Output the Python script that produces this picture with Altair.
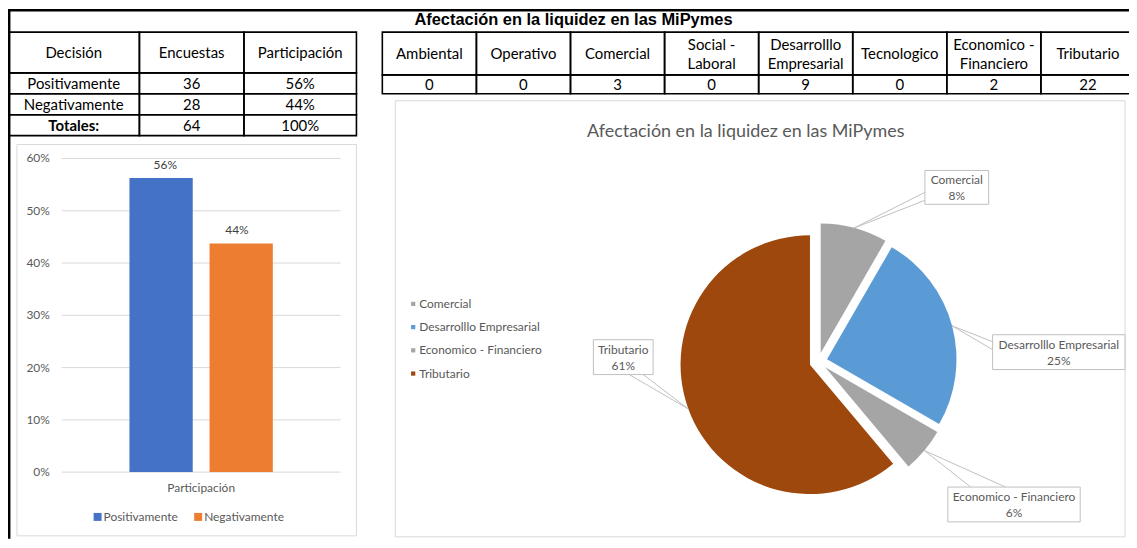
import math
import altair as alt
import pandas as pd

# ------------------------------------------------------------------ data
T1_HEADERS = ["Decisión", "Encuestas", "Participación"]
T1_DECISION = ["Positivamente", "Negativamente", "Totales:"]
T1_ENCUESTAS = [36, 28, 64]

T2_TITLE = "Afectación en la liquidez en las MiPymes"
T2_HEADERS = ["Ambiental", "Operativo", "Comercial", "Social -\nLaboral",
              "Desarrolllo\nEmpresarial", "Tecnologico", "Economico -\nFinanciero",
              "Tributario"]
T2_VALUES = [0, 0, 3, 0, 9, 0, 2, 22]

BAR_SERIES = ["Positivamente", "Negativamente"]
BAR_COUNTS = [36, 28]
BAR_CATEGORY = "Participación"
BAR_TICKS = [0, 0.1, 0.2, 0.3, 0.4, 0.5, 0.6]

PIE_TITLE = "Afectación en la liquidez en las MiPymes"
PIE_CATS = ["Comercial", "Desarrolllo Empresarial", "Economico - Financiero", "Tributario"]
PIE_VALUES = [3, 9, 2, 22]

# ------------------------------------------------------------------ styles / layout
FONT = "Lato"
GRAY_TXT = "#595959"
GRID = "#d9d9d9"
BAR_COLORS = ["#4472c4", "#ed7d31"]
PIE_COLORS = ["#a5a5a5", "#5b9bd5", "#a5a5a5", "#9e480e"]

OFF = 8
def P(v):
    return v - OFF

W, H = 1126, 532

PIE_CX, PIE_CY, PIE_R, PIE_D = P(822), P(362), 130, 9

LABEL_BOX = {
    "Comercial": (929, 170, 993, 204),
    "Desarrolllo Empresarial": (997, 335, 1130, 370),
    "Economico - Financiero": (952, 488, 1085, 523),
    "Tributario": (596, 340, 656, 375),
}
LEADER_ANCHORS = {
    "Comercial": [(929, 192), (929, 200)],
    "Desarrolllo Empresarial": [(997, 342), (997, 350)],
    "Economico - Financiero": [(975, 488), (1010, 488)],
    "Tributario": [(632, 375), (646, 375)],
}

one = pd.DataFrame({"k": [0]})
layers = []

# ------------------------------------------------------------------ outer frame
layers.append(alt.Chart(one).mark_rule(color="black", strokeWidth=2.5).encode(
    x=alt.value(0), x2=alt.value(W), y=alt.value(1)))
layers.append(alt.Chart(one).mark_rule(color="black", strokeWidth=2.5).encode(
    x=alt.value(1.2), y=alt.value(0), y2=alt.value(H)))

# ------------------------------------------------------------------ table 1
total_enc = T1_ENCUESTAS[-1]
t1_rows = []
for c, h in enumerate(T1_HEADERS):
    t1_rows.append(dict(c=c, r=0, text=h, bold=False))
for r, (d, e) in enumerate(zip(T1_DECISION, T1_ENCUESTAS), start=1):
    pct = f"{round(100 * e / total_enc)}%"
    t1_rows += [dict(c=0, r=r, text=d, bold=(d == "Totales:")),
                dict(c=1, r=r, text=str(e), bold=False),
                dict(c=2, r=r, text=pct, bold=False)]
t1 = pd.DataFrame(t1_rows)
T1X = alt.Scale(domain=[0, 1, 2, 3], range=[P(8), P(140), P(245), P(358)], nice=False, zero=False)
T1Y = alt.Scale(domain=[0, 1, 2, 3, 4], range=[P(31), P(72), P(93), P(114), P(135)], nice=False, zero=False)
t1b = alt.Chart(t1).transform_calculate(c1="datum.c + 1").transform_calculate(
    r1="datum.r + 1").transform_calculate(cm="datum.c + 0.5").transform_calculate(rm="datum.r + 0.5")
layers.append(t1b.mark_rect(fillOpacity=0, stroke="black", strokeWidth=1.6).encode(
    x=alt.X("c:Q", scale=T1X, axis=None), x2="c1:Q",
    y=alt.Y("r:Q", scale=T1Y, axis=None), y2="r1:Q"))
layers.append(t1b.transform_filter("!datum.bold").mark_text(
    font=FONT, fontSize=15, color="black", baseline="middle", dy=1).encode(
    x=alt.X("cm:Q", scale=T1X, axis=None), y=alt.Y("rm:Q", scale=T1Y, axis=None), text="text:N"))
layers.append(t1b.transform_filter("datum.bold").mark_text(
    font=FONT, fontSize=15, fontWeight="bold", color="black", baseline="middle", dy=1).encode(
    x=alt.X("cm:Q", scale=T1X, axis=None), y=alt.Y("rm:Q", scale=T1Y, axis=None), text="text:N"))

# ------------------------------------------------------------------ table 2
t2_rows = []
for c, (h, v) in enumerate(zip(T2_HEADERS, T2_VALUES)):
    t2_rows.append(dict(c=c, r=0, text=h, multi=("\n" in h)))
    t2_rows.append(dict(c=c, r=1, text=str(v), multi=False))
t2 = pd.DataFrame(t2_rows)
T2X = alt.Scale(domain=[0, 8], range=[P(384), P(1140)], nice=False, zero=False)
T2Y = alt.Scale(domain=[0, 1, 2], range=[P(31), P(74), P(93)], nice=False, zero=False)
t2b = alt.Chart(t2).transform_calculate(c1="datum.c + 1").transform_calculate(
    r1="datum.r + 1").transform_calculate(cm="datum.c + 0.5").transform_calculate(rm="datum.r + 0.5")
layers.append(t2b.mark_rect(fillOpacity=0, stroke="black", strokeWidth=1.6).encode(
    x=alt.X("c:Q", scale=T2X, axis=None), x2="c1:Q",
    y=alt.Y("r:Q", scale=T2Y, axis=None), y2="r1:Q"))
layers.append(t2b.transform_filter("!datum.multi").mark_text(
    font=FONT, fontSize=15, color="black", baseline="middle", dy=1).encode(
    x=alt.X("cm:Q", scale=T2X, axis=None), y=alt.Y("rm:Q", scale=T2Y, axis=None), text="text:N"))
layers.append(t2b.transform_filter("datum.multi").mark_text(
    font=FONT, fontSize=15, color="black", baseline="middle",
    lineBreak="\n", lineHeight=19, dy=-8.5).encode(
    x=alt.X("cm:Q", scale=T2X, axis=None), y=alt.Y("rm:Q", scale=T2Y, axis=None), text="text:N"))
layers.append(alt.Chart(pd.DataFrame({"t": [T2_TITLE]})).mark_text(
    font="Liberation Sans", fontSize=16.5, fontWeight="bold", color="black", baseline="middle").encode(
    x=alt.value(P(576)), y=alt.value(P(19)), text="t:N"))

# ------------------------------------------------------------------ bar chart panel
layers.append(alt.Chart(one).mark_rect(fill="white", stroke=GRID, strokeWidth=1).encode(
    x=alt.value(P(17)), x2=alt.value(P(358)), y=alt.value(P(144)), y2=alt.value(P(537))))
BY = alt.Scale(domain=[0, 0.6], range=[P(473), P(158)], nice=False, zero=False)
ticks = pd.DataFrame({"t": BAR_TICKS})
layers.append(alt.Chart(ticks).mark_rule(color=GRID, strokeWidth=1).encode(
    y=alt.Y("t:Q", scale=BY, axis=None), x=alt.value(P(62)), x2=alt.value(P(342))))
layers.append(alt.Chart(ticks).transform_calculate(lab="format(datum.t, '.0%')").mark_text(
    font=FONT, fontSize=12, color=GRAY_TXT, align="right", baseline="middle").encode(
    y=alt.Y("t:Q", scale=BY, axis=None), x=alt.value(P(50)), text="lab:N"))
bars = pd.DataFrame({"s": BAR_SERIES, "n": BAR_COUNTS})
bars_b = alt.Chart(bars).transform_joinaggregate(tot="sum(n)").transform_calculate(
    v="datum.n / datum.tot").transform_calculate(lab="format(datum.v, '.0%')")
BX = alt.Scale(domain=BAR_SERIES, range=[P(130), P(274)], paddingInner=0.21, paddingOuter=0)
BCOL = alt.Scale(domain=BAR_SERIES, range=BAR_COLORS)
layers.append(bars_b.mark_bar().encode(
    x=alt.X("s:N", scale=BX, axis=None),
    y=alt.Y("v:Q", scale=BY, axis=None), y2=alt.datum(0),
    color=alt.Color("s:N", scale=BCOL, legend=None)))
layers.append(bars_b.mark_text(font=FONT, fontSize=12, color="#404040", baseline="middle", dy=-13).encode(
    x=alt.X("s:N", scale=BX, axis=None), y=alt.Y("v:Q", scale=BY, axis=None), text="lab:N"))
layers.append(alt.Chart(pd.DataFrame({"t": [BAR_CATEGORY]})).mark_text(
    font=FONT, fontSize=12, color=GRAY_TXT, baseline="middle").encode(
    x=alt.value(P(202)), y=alt.value(P(489)), text="t:N"))
BLX = alt.Scale(domain=BAR_SERIES, range=[P(98), P(199)], type="point", padding=0)
layers.append(alt.Chart(bars).mark_square(size=64, opacity=1).encode(
    x=alt.X("s:N", scale=BLX, axis=None), y=alt.value(P(518)),
    color=alt.Color("s:N", scale=BCOL, legend=None)))
layers.append(alt.Chart(bars).mark_text(font=FONT, fontSize=12, color=GRAY_TXT, align="left",
                                        baseline="middle", dx=6).encode(
    x=alt.X("s:N", scale=BLX, axis=None), y=alt.value(P(518)), text="s:N"))

# ------------------------------------------------------------------ pie panel
layers.append(alt.Chart(one).mark_rect(fill="white", stroke=GRID, strokeWidth=1).encode(
    x=alt.value(P(397)), x2=alt.value(P(1130)), y=alt.value(P(100)), y2=alt.value(P(538))))
layers.append(alt.Chart(pd.DataFrame({"t": [PIE_TITLE]})).mark_text(
    font=FONT, fontSize=18, color=GRAY_TXT, baseline="middle").encode(
    x=alt.value(P(749)), y=alt.value(P(131)), text="t:N"))

PCOL = alt.Scale(domain=PIE_CATS, range=PIE_COLORS)
leg = pd.DataFrame({"cat": PIE_CATS})
PLY = alt.Scale(domain=PIE_CATS, range=[P(304), P(374)], type="point", padding=0)
layers.append(alt.Chart(leg).mark_square(size=18, opacity=1).encode(
    y=alt.Y("cat:N", scale=PLY, axis=None), x=alt.value(P(415)),
    color=alt.Color("cat:N", scale=PCOL, legend=None)))
layers.append(alt.Chart(leg).mark_text(font=FONT, fontSize=12, color=GRAY_TXT, align="left",
                                       baseline="middle").encode(
    y=alt.Y("cat:N", scale=PLY, axis=None), x=alt.value(P(421)), text="cat:N"))

pie_rows = []
for i, (cat, v) in enumerate(zip(PIE_CATS, PIE_VALUES)):
    bx0, by0, bx1, by1 = LABEL_BOX[cat]
    (a1x, a1y), (a2x, a2y) = LEADER_ANCHORS[cat]
    pie_rows.append(dict(cat=cat, value=v, order=i,
                         bx0=P(bx0), by0=P(by0), bx1=P(bx1), by1=P(by1),
                         bcx=P((bx0 + bx1) / 2), bcy=P((by0 + by1) / 2),
                         a1x=P(a1x), a1y=P(a1y), a2x=P(a2x), a2y=P(a2y)))
pie = pd.DataFrame(pie_rows)
TOTAL = sum(PIE_VALUES)

pie_b = (alt.Chart(pie)
         .transform_joinaggregate(total="sum(value)")
         .transform_window(cum="sum(value)", sort=[alt.SortField("order")], frame=[None, 0])
         .transform_calculate(v0="datum.cum - datum.value")
         .transform_calculate(mid="PI * (2 * datum.cum - datum.value) / datum.total")
         .transform_calculate(cx=f"{PIE_CX} + {PIE_D} * sin(datum.mid)")
         .transform_calculate(cy=f"{PIE_CY} - {PIE_D} * cos(datum.mid)")
         .transform_calculate(ex=f"datum.cx + {PIE_R} * sin(datum.mid)")
         .transform_calculate(ey=f"datum.cy - {PIE_R} * cos(datum.mid)")
         .transform_calculate(lab="datum.cat + '\\n' + format(datum.value / datum.total, '.0%')"))

THETA = alt.Scale(domain=[0, TOTAL], range=[0, 2 * math.pi], nice=False, zero=False)
layers.append(pie_b.mark_arc(outerRadius=PIE_R).encode(
    theta=alt.Theta("v0:Q", scale=THETA, stack=False), theta2="cum:Q",
    x=alt.X("cx:Q", scale=None, axis=None), y=alt.Y("cy:Q", scale=None, axis=None),
    color=alt.Color("cat:N", scale=PCOL, legend=None)))
for ax, ay in (("a1x", "a1y"), ("a2x", "a2y")):
    layers.append(pie_b.mark_rule(color="#bfbfbf", strokeWidth=1).encode(
        x=alt.X(f"{ax}:Q", scale=None, axis=None), y=alt.Y(f"{ay}:Q", scale=None, axis=None),
        x2="ex:Q", y2="ey:Q"))
layers.append(pie_b.mark_rect(fill="white", stroke="#bfbfbf", strokeWidth=1).encode(
    x=alt.X("bx0:Q", scale=None, axis=None), x2="bx1:Q",
    y=alt.Y("by0:Q", scale=None, axis=None), y2="by1:Q"))
layers.append(pie_b.mark_text(font=FONT, fontSize=12, color=GRAY_TXT, baseline="middle",
                              lineBreak="\n", lineHeight=15.5, dy=-7).encode(
    x=alt.X("bcx:Q", scale=None, axis=None), y=alt.Y("bcy:Q", scale=None, axis=None), text="lab:N"))

chart = (alt.layer(*layers)
         .resolve_scale(x="independent", y="independent", color="independent", theta="independent")
         .properties(width=W, height=H, padding=0, background="white",
                     autosize=alt.AutoSizeParams(type="none"))
         .configure_view(stroke=None))

chart.save("out.html", embed_options={"renderer": "svg", "actions": False})
